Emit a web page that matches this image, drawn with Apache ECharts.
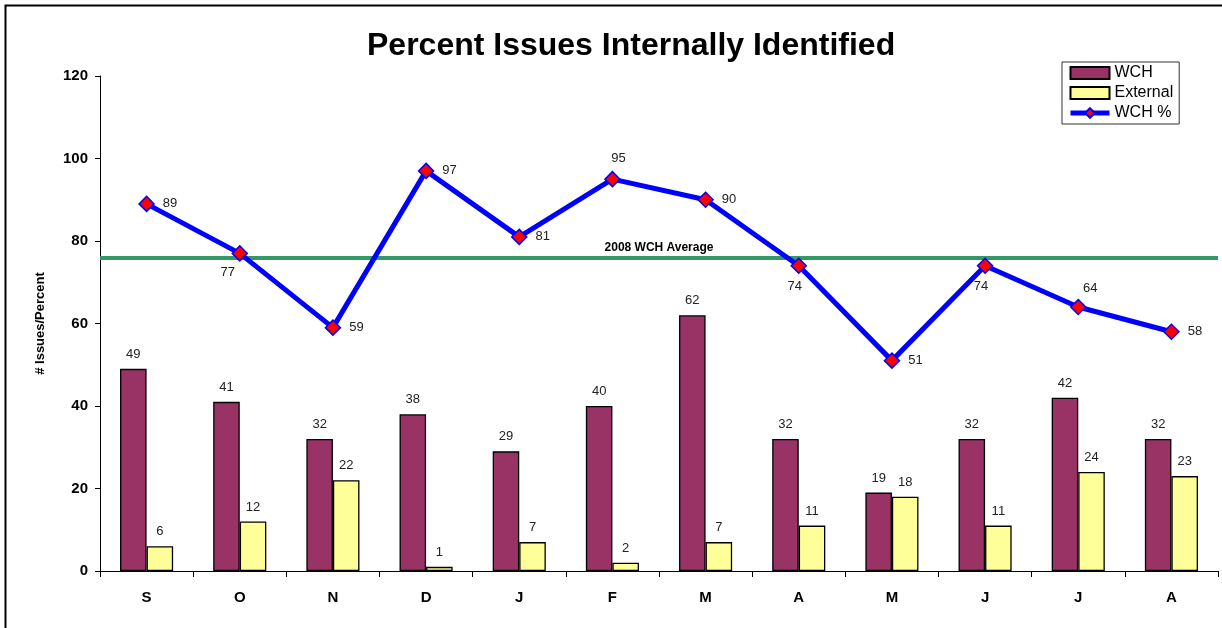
<!DOCTYPE html>
<html>
<head>
<meta charset="utf-8">
<script src="https://cdn.jsdelivr.net/npm/echarts@6/dist/echarts.min.js"></script>
<style>
html,body{margin:0;padding:0;background:#fff;}
#chart{width:1222px;height:628px;}
</style>
</head>
<body>
<div id="chart"></div>
<script>
const categories = ['S','O','N','D','J','F','M','A','M','J','J','A'];
const wchIssues = [49, 41, 32, 38, 29, 40, 62, 32, 19, 32, 42, 32];
const externalIssues = [6, 12, 22, 1, 7, 2, 7, 11, 18, 11, 24, 23];
const wchPercent = [89, 77, 59, 97, 81, 95, 90, 74, 51, 74, 64, 58];
const wchAverage2008 = 76;
const yTicks = [0, 20, 40, 60, 80, 100, 120];

const FONT = '"Liberation Sans", Arial, sans-serif';

// label placement for the percent line (style only)
const pctLabelStyle = ['right','bl','right','right','right','top','right','bottom','right','bottom','tr','right'];
function pctLabel(k){
  const base = {show:true, color:'#222', fontSize:13, fontFamily:FONT};
  if (k==='right') return Object.assign(base,{position:'right', distance:8});
  if (k==='top') return Object.assign(base,{position:'top', distance:6, offset:[6,0]});
  if (k==='bottom') return Object.assign(base,{position:'bottom', distance:6, offset:[-4,0]});
  if (k==='bl') return Object.assign(base,{position:'bottom', distance:4, offset:[-12,0]});
  if (k==='tr') return Object.assign(base,{position:'top', distance:4, offset:[12,0]});
  return base;
}

const chart = echarts.init(document.getElementById('chart'), null, {renderer:'canvas'});
chart.setOption({
  backgroundColor:'#fff',
  animation:false,
  textStyle:{fontFamily:FONT},
  title:{
    text:'Percent Issues Internally Identified',
    left:362, top:25,
    textStyle:{fontFamily:FONT, fontSize:32, fontWeight:'bold', color:'#000'}
  },
  graphic:[{
    type:'rect', left:3, top:3, z:100, silent:true,
    shape:{width:1240, height:640},
    style:{fill:'none', stroke:'#000', lineWidth:2}
  }],
  legend:{
    orient:'vertical', left:1062, top:62,
    padding:[3,6,3,6], itemGap:4, itemWidth:39, itemHeight:12,
    borderColor:'#333', borderWidth:1, backgroundColor:'#fff',
    textStyle:{fontFamily:FONT, fontSize:16, color:'#000'},
    data:[
      {name:'WCH', icon:'rect'},
      {name:'External', icon:'rect'},
      {name:'WCH %', lineStyle:{width:5, color:'#0000FF'}}
    ]
  },
  grid:{left:100, right:4, top:76, bottom:57},
  xAxis:{
    type:'category', data:categories,
    axisLine:{lineStyle:{color:'#000', width:1}},
    axisTick:{show:true, length:6, lineStyle:{color:'#000'}},
    axisLabel:{fontFamily:FONT, fontSize:15, fontWeight:'bold', color:'#000', margin:19}
  },
  yAxis:{
    type:'value', min:yTicks[0], max:yTicks[yTicks.length-1], interval:yTicks[1]-yTicks[0],
    name:'# Issues/Percent', nameLocation:'middle', nameGap:53, nameRotate:90,
    nameTextStyle:{fontFamily:FONT, fontSize:13, fontWeight:'bold', color:'#000'},
    axisLine:{show:true, lineStyle:{color:'#000', width:1}},
    axisTick:{show:true, length:5, lineStyle:{color:'#000'}},
    splitLine:{show:false},
    axisLabel:{fontFamily:FONT, fontSize:15, fontWeight:'bold', color:'#000', margin:12}
  },
  series:[
    {
      name:'WCH', type:'bar', data:wchIssues,
      barGap:'0%', barCategoryGap:'43%',
      itemStyle:{color:'#993366', borderColor:'#000', borderWidth:1.3},
      label:{show:true, position:'top', distance:8, color:'#222', fontSize:13, fontFamily:FONT}
    },
    {
      name:'External', type:'bar', data:externalIssues,
      itemStyle:{color:'#FFFF99', borderColor:'#000', borderWidth:1.3},
      label:{show:true, position:'top', distance:8, color:'#222', fontSize:13, fontFamily:FONT}
    },
    {
      name:'WCH %', type:'line', data:wchPercent.map((v,i)=>({value:v, label:pctLabel(pctLabelStyle[i])})),
      z:5,
      lineStyle:{color:'#0000FF', width:5},
      itemStyle:{color:'#FF0000', borderColor:'#0000FF', borderWidth:1.5},
      symbol:'diamond', symbolSize:15, showAllSymbol:true,
      markLine:{
        silent:true, symbol:['none','none'], z:4,
        lineStyle:{color:'#339966', width:4, type:'solid'},
        label:{show:true, position:'middle', formatter:'2008 WCH Average', distance:4,
               fontFamily:FONT, fontSize:12, fontWeight:'bold', color:'#000'},
        data:[{yAxis:wchAverage2008}]
      }
    }
  ]
});
</script>
</body>
</html>
